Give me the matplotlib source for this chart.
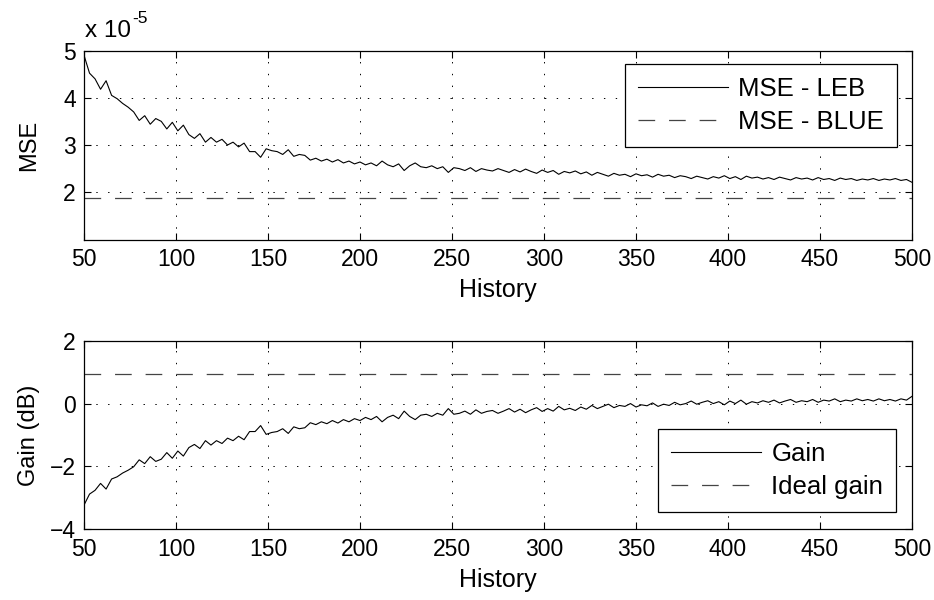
import numpy as np
import matplotlib
matplotlib.use("Agg")
import matplotlib.pyplot as plt

plt.rcParams['font.family'] = ['Liberation Sans', 'DejaVu Sans']
plt.rcParams['lines.scale_dashes'] = False

# ---- data ----
history = list(range(50, 501, 3))

mse_leb = [  # units of 1e-5
    4.90, 4.52, 4.40, 4.18, 4.36, 4.05, 3.98, 3.88, 3.80, 3.70,
    3.52, 3.62, 3.44, 3.56, 3.50, 3.34, 3.48, 3.30, 3.42, 3.22,
    3.14, 3.24, 3.06, 3.16, 3.06, 3.12, 3.00, 3.06, 2.96, 3.04,
    2.86, 2.86, 2.74, 2.92, 2.88, 2.86, 2.80, 2.90, 2.76, 2.80,
    2.78, 2.68, 2.72, 2.66, 2.70, 2.64, 2.69, 2.62, 2.66, 2.60,
    2.64, 2.58, 2.62, 2.56, 2.66, 2.58, 2.54, 2.60, 2.46, 2.56,
    2.62, 2.54, 2.52, 2.56, 2.50, 2.54, 2.42, 2.52, 2.50, 2.46,
    2.52, 2.44, 2.50, 2.47, 2.45, 2.50, 2.46, 2.42, 2.48, 2.43,
    2.49, 2.44, 2.40, 2.47, 2.42, 2.46, 2.38, 2.44, 2.41, 2.45,
    2.39, 2.43, 2.36, 2.42, 2.38, 2.34, 2.40, 2.36, 2.38, 2.33,
    2.39, 2.35, 2.37, 2.32, 2.38, 2.34, 2.36, 2.31, 2.35, 2.33,
    2.29, 2.34, 2.31, 2.28, 2.33, 2.30, 2.35, 2.29, 2.33, 2.27,
    2.34, 2.30, 2.32, 2.28, 2.31, 2.27, 2.32, 2.29, 2.26, 2.31,
    2.28, 2.30, 2.26, 2.31, 2.27, 2.29, 2.25, 2.30, 2.27, 2.29,
    2.25, 2.28, 2.26, 2.29, 2.25, 2.28, 2.26, 2.29, 2.25, 2.27,
    2.21,
]
mse_blue = 1.87  # units of 1e-5

gain_db = [
    -3.23, -2.88, -2.76, -2.54, -2.72, -2.40, -2.33, -2.21, -2.12, -2.01,
    -1.79, -1.91, -1.69, -1.84, -1.77, -1.56, -1.74, -1.51, -1.67, -1.40,
    -1.30, -1.43, -1.18, -1.32, -1.18, -1.27, -1.10, -1.18, -1.04, -1.15,
    -0.89, -0.89, -0.70, -0.98, -0.92, -0.89, -0.80, -0.95, -0.74, -0.80,
    -0.77, -0.61, -0.67, -0.58, -0.64, -0.54, -0.62, -0.51, -0.58, -0.48,
    -0.54, -0.44, -0.51, -0.41, -0.58, -0.44, -0.37, -0.48, -0.24, -0.41,
    -0.51, -0.37, -0.34, -0.41, -0.31, -0.37, -0.16, -0.34, -0.31, -0.24,
    -0.34, -0.20, -0.31, -0.25, -0.22, -0.31, -0.24, -0.16, -0.27, -0.18,
    -0.29, -0.20, -0.13, -0.25, -0.16, -0.24, -0.09, -0.20, -0.15, -0.22,
    -0.11, -0.18, -0.06, -0.16, -0.09, -0.02, -0.13, -0.06, -0.09, 0.00,
    -0.11, -0.04, -0.07, 0.02, -0.09, -0.02, -0.06, 0.04, -0.04, 0.00,
    0.08, -0.02, 0.04, 0.09, 0.00, 0.06, -0.04, 0.08, 0.00, 0.11,
    -0.02, 0.06, 0.02, 0.09, 0.04, 0.11, 0.02, 0.08, 0.13, 0.04,
    0.09, 0.06, 0.13, 0.04, 0.11, 0.08, 0.15, 0.06, 0.11, 0.08,
    0.15, 0.09, 0.13, 0.08, 0.15, 0.09, 0.13, 0.08, 0.15, 0.11,
    0.23,
]
ideal_gain_db = 0.93

x_ticks = [50, 100, 150, 200, 250, 300, 350, 400, 450, 500]
mse_ticks = [2, 3, 4, 5]
gain_ticks = [-4, -2, 0, 2]

# ---- figure ----
W, H = 934, 600
fig = plt.figure(figsize=(W / 100, H / 100), dpi=100)
fig.patch.set_facecolor('white')

AX_L, AX_R = 84, 912

def px_axes(l, t, r, b):
    return fig.add_axes([l / W, 1 - b / H, (r - l) / W, (b - t) / H])

ax1 = px_axes(AX_L, 50.5, AX_R, 239.5)
ax2 = px_axes(AX_L, 340.7, AX_R, 529.3)

FS_TICK = 16.5
FS_XLAB = 18
FS_YLAB = 17
FS_LEG = 18.5
dash = (0, (12, 10))
grid_ls = (0, (1, 7.5))

def style(ax):
    ax.set_xlim(50, 500)
    ax.set_xticks(x_ticks)
    ax.grid(True, color='black', linestyle=grid_ls, linewidth=0.7)
    ax.tick_params(direction='in', length=5, width=0.8, top=True, right=True,
                   labelsize=FS_TICK, pad=6, colors='black')
    for s in ax.spines.values():
        s.set_linewidth(0.9)
        s.set_color('black')
    ax.set_xlabel('History', fontsize=FS_XLAB, labelpad=5)

def legend(ax, handles, anchor, loc):
    leg = ax.legend(handles=handles, loc=loc,
                    bbox_to_anchor=(anchor[0] / W, 1 - anchor[1] / H),
                    bbox_transform=fig.transFigure,
                    fontsize=FS_LEG, frameon=True, fancybox=False, framealpha=1,
                    edgecolor='black', borderaxespad=0, handlelength=3.5,
                    handletextpad=0.4, labelspacing=0.35, borderpad=0.5)
    leg.get_frame().set_linewidth(0.9)
    return leg

ylab_x = (40 - AX_L) / (AX_R - AX_L)

# top panel
l1, = ax1.plot(history, mse_leb, color='black', linewidth=0.8, label='MSE - LEB')
l2 = ax1.axhline(mse_blue, color='#444444', linewidth=0.9, linestyle=dash, label='MSE - BLUE')
ax1.set_ylim(1, 5)
ax1.set_yticks(mse_ticks)
style(ax1)
ax1.set_ylabel('MSE', fontsize=FS_YLAB)
ax1.yaxis.set_label_coords(ylab_x, 0.5)
legend(ax1, [l1, l2], (897, 64), 'upper right')

# bottom panel
g1, = ax2.plot(history, gain_db, color='black', linewidth=0.8, label='Gain')
g2 = ax2.axhline(ideal_gain_db, color='#444444', linewidth=0.9, linestyle=dash, label='Ideal gain')
ax2.set_ylim(-4, 2)
ax2.set_yticks(gain_ticks)
style(ax2)
ax2.set_ylabel('Gain (dB)', fontsize=FS_YLAB)
ax2.yaxis.set_label_coords(ylab_x, 0.5)
legend(ax2, [g1, g2], (896, 429), 'upper right')

# exponent label
fig.text(85 / W, 1 - 36.7 / H, 'x 10', fontsize=17.5, va='baseline', ha='left')
fig.text(132.5 / W, 1 - 23 / H, '-5', fontsize=12.5, va='baseline', ha='left')

fig.savefig('out.png', dpi=100, facecolor='white')
